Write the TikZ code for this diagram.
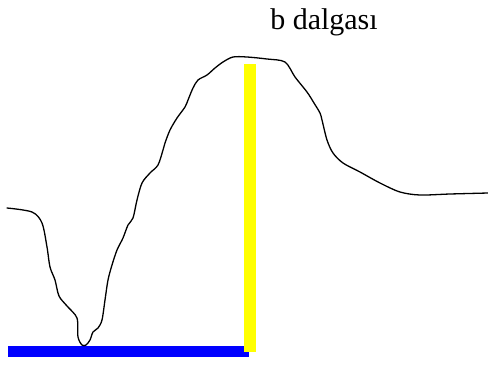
\documentclass[tikz,border=0pt]{standalone}
\usepackage{fontspec}
\setmainfont{Liberation Serif}
\usetikzlibrary{positioning}
\definecolor{waveBlue}{HTML}{0000FF}
\definecolor{waveYellow}{HTML}{FFFF00}
\tikzset{
  wave/.style={draw=black, line width=1.3pt, line cap=round, line join=round},
  baseline/.style={draw=waveBlue, line width=11pt},
  peakline/.style={draw=waveYellow, line width=12pt},
  wavelabel/.style={font=\fontsize{30}{34}\selectfont, inner sep=0pt},
}
\begin{document}
\begin{tikzpicture}[x=1pt,y=-1pt]
  \useasboundingbox (0,0) rectangle (488,365);

  % label
  \node[wavelabel, anchor=base] (lbl) at (324,29) {b dalgası};

  % bar end points
  \coordinate (blueL) at (8,351);
  \coordinate (blueR) at (249,351);
  \coordinate (yelT) at (250,64);
  \coordinate (yelB) at (250,352);

  % bars
  \draw[baseline] (blueL) -- (blueR);
  \draw[peakline] (yelT) -- (yelB);

  % the wave
  \draw[wave] plot[smooth, tension=0.5] coordinates {
    (7,208) (32,212) (42,223) (47,247) (50,267) (55,280) (59,296)
    (67,306) (77,318) (78,337) (82,345) (86,345) (90,340) (93,332)
    (98,328) (102,320) (105,300) (108,280) (112,265) (117,250)
    (123,238) (128,225) (133,218) (137,200) (142,183) (150,173)
    (158,165) (163,150) (165,143) (170,130) (177,118) (185,107)
    (188,100) (193,88) (198,80) (207,75) (215,68) (223,62) (233,57)
    (247,57) (267,59) (285,62) (295,77) (307,92) (314,103) (320,113)
    (322,120) (327,140) (333,153) (343,163) (360,172) (380,183)
    (400,192) (420,195) (450,194) (488,193)};
\end{tikzpicture}
\end{document}
